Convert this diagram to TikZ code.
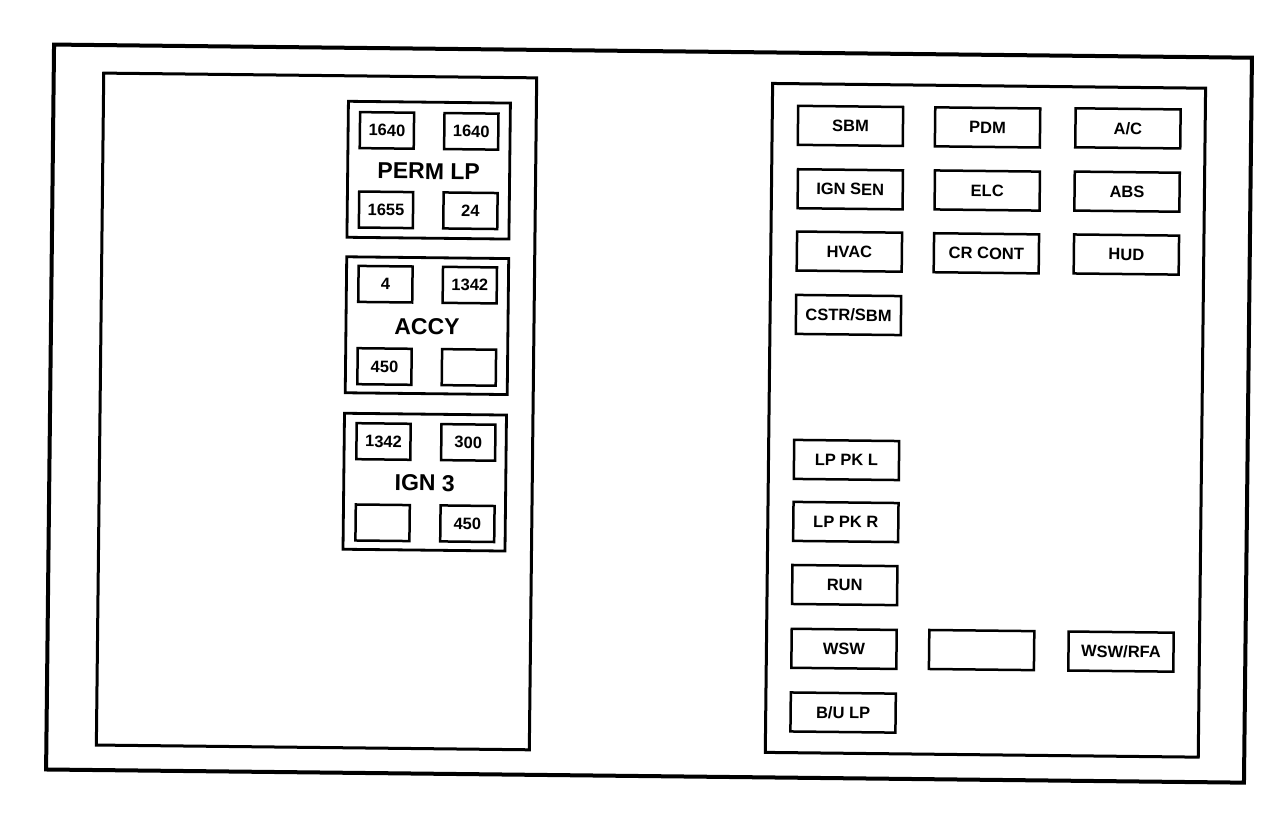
\documentclass[tikz,border=0pt]{standalone}
\usepackage{fontspec}
\setmainfont{Liberation Sans}
\begin{document}
\begin{tikzpicture}[x=1pt,y=-1pt,
  outerframe/.style={draw,line width=4pt},
  panelframe/.style={draw,line width=3pt},
  groupbox/.style={draw,line width=2.8pt,minimum width=162pt,minimum height=136pt,inner sep=0pt},
  sfuse/.style={draw,line width=2.5pt,minimum width=54pt,minimum height=36pt,inner sep=0pt,font=\fontsize{16.5}{16.5}\selectfont\bfseries},
  rfuse/.style={draw,line width=2.5pt,minimum width=105pt,minimum height=39pt,inner sep=0pt,font=\fontsize{16.5}{16.5}\selectfont\bfseries},
  glabel/.style={inner sep=0pt,font=\fontsize{23}{23}\selectfont\bfseries}]
\useasboundingbox (0,0) rectangle (1280,828);
\begin{scope}[rotate around={-0.63:(640,414)},transform shape]
\draw[outerframe] (50,51) rectangle (1248,776);
\draw[panelframe] (100,79) rectangle (533,751);
\draw[panelframe] (769,82) rectangle (1202,751);
% left groups
\node[groupbox] (g1) at (426,172.5) {};
\node[groupbox] (g2) at (426,328) {};
\node[groupbox] (g3) at (425.5,484.5) {};
\node[glabel] (l1) at (426,173.5) {PERM LP};
\node[glabel] (l2) at (426,329) {ACCY};
\node[glabel] (l3) at (425.5,485.5) {IGN 3};
\node[sfuse] (a1) at (383.8,133.2) {1640};
\node[sfuse] (a2) at (468.2,133.2) {1640};
\node[sfuse] (a3) at (383.8,212.6) {1655};
\node[sfuse] (a4) at (468.2,212.6) {24};
\node[sfuse] (b1) at (384,287) {4};
\node[sfuse] (b2) at (468.4,287) {1342};
\node[sfuse] (b3) at (384,369.3) {450};
\node[sfuse] (b4) at (468.4,369.3) {};
\node[sfuse] (c1) at (383.8,444.3) {1342};
\node[sfuse] (c2) at (468.6,444.3) {300};
\node[sfuse] (c3) at (383.8,525.6) {};
\node[sfuse] (c4) at (468.6,525.6) {450};
% right fuses
\node[rfuse] (r1) at (847.3,123.6) {SBM};
\node[rfuse] (r2) at (984.4,123.6) {PDM};
\node[rfuse] (r3) at (1124.8,123) {A/C};
\node[rfuse] (r4) at (847.8,187) {IGN SEN};
\node[rfuse] (r5) at (984.8,186.7) {ELC};
\node[rfuse] (r6) at (1124.6,186.3) {ABS};
\node[rfuse] (r7) at (847.6,249.3) {HVAC};
\node[rfuse] (r8) at (984.6,249.5) {CR CONT};
\node[rfuse] (r9) at (1124.6,249.2) {HUD};
\node[rfuse] (r10) at (847.4,312.7) {CSTR/SBM};
\node[rfuse] (r11) at (847,457.7) {LP PK L};
\node[rfuse] (r12) at (847,519.7) {LP PK R};
\node[rfuse] (r13) at (846.6,582.8) {RUN};
\node[rfuse] (r14) at (846.6,646.6) {WSW};
\node[rfuse] (r15) at (984.2,646.3) {};
\node[rfuse] (r16) at (1123.6,646.3) {WSW/RFA};
\node[rfuse] (r17) at (846.4,710.3) {B/U LP};
\end{scope}
\end{tikzpicture}
\end{document}
